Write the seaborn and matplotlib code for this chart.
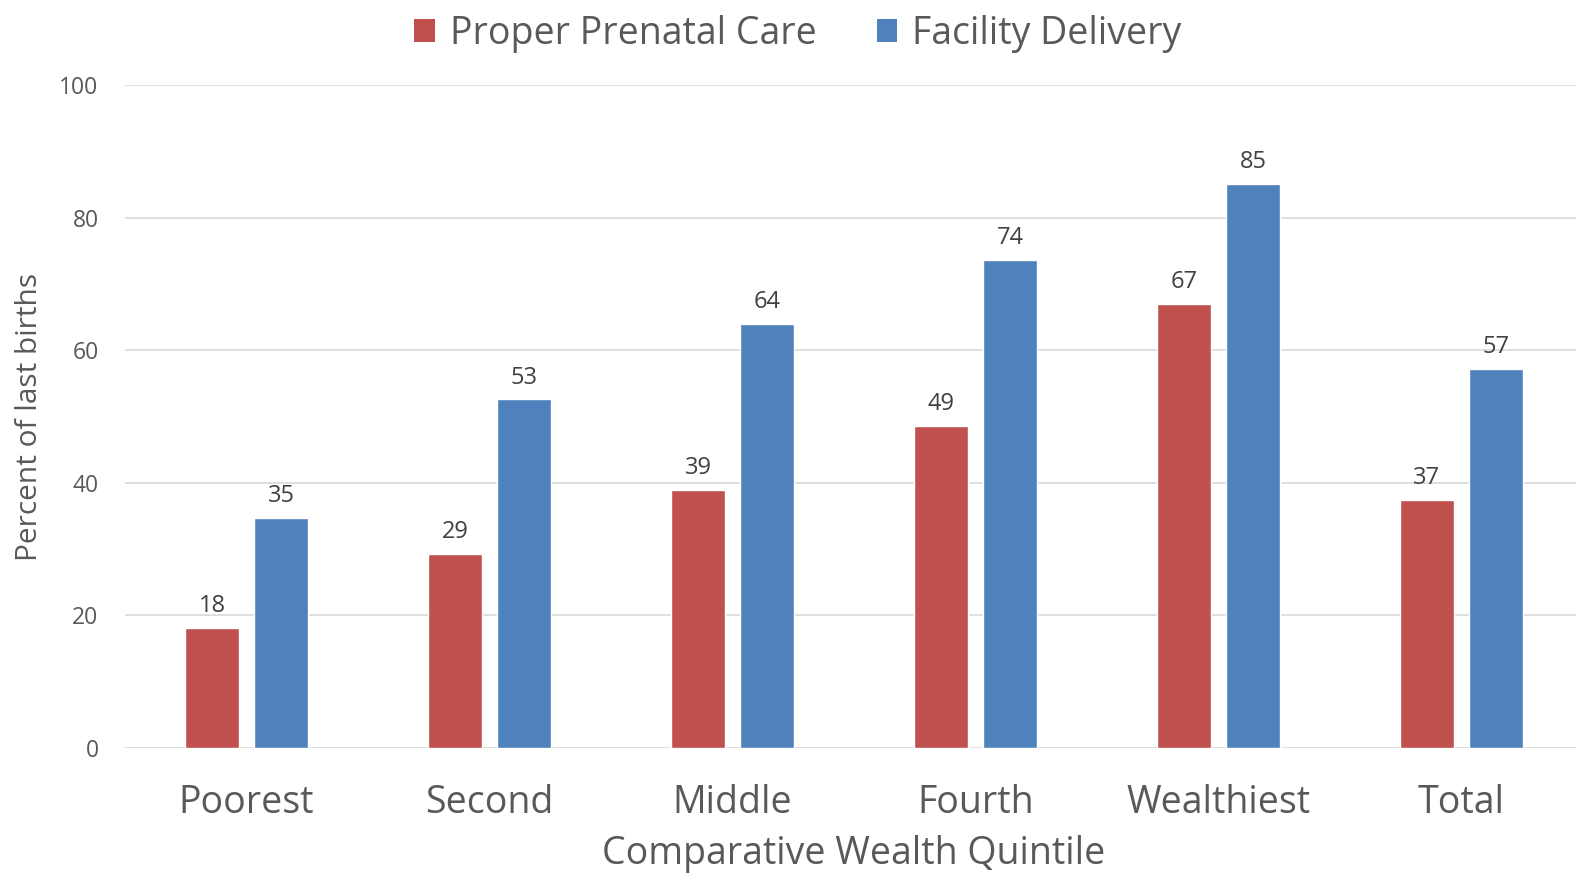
import matplotlib
matplotlib.use("Agg")
import matplotlib.pyplot as plt
import seaborn as sns
import pandas as pd
from matplotlib.patches import Patch

categories = ["Poorest", "Second", "Middle", "Fourth", "Wealthiest", "Total"]
prenatal = [18.1, 29.3, 38.9, 48.6, 67.0, 37.4]
facility = [34.7, 52.6, 64.0, 73.6, 85.1, 57.2]
series_names = ["Proper Prenatal Care", "Facility Delivery"]
colors = ["#C0504D", "#4F81BD"]
yticks = [0, 20, 40, 60, 80, 100]

df = pd.DataFrame({
    "Quintile": categories * 2,
    "Series": [series_names[0]] * len(categories) + [series_names[1]] * len(categories),
    "Value": prenatal + facility,
})

sns.set_theme(style="white")
plt.rcParams["font.family"] = ["Open Sans", "DejaVu Sans"]

W, H = 1576, 876
fig = plt.figure(figsize=(W / 100, H / 100), dpi=100)
ax_left, ax_right = 125, 125 + 243 * 6
ax_top, ax_bot = 85, 748
ax = fig.add_axes([ax_left / W, 1 - ax_bot / H, (ax_right - ax_left) / W, (ax_bot - ax_top) / H])

sns.barplot(data=df, x="Quintile", y="Value", hue="Series", palette=colors,
            width=0.568, gap=0.217, ax=ax, legend=False, saturation=1)

ax.set_ylim(0, 100)
ax.set_xlim(-0.5, len(categories) - 0.5)
ax.set_yticks(yticks)
ax.yaxis.grid(True, color="#D9D9D9", linewidth=1.2)
ax.set_axisbelow(True)
for s in ax.spines.values():
    s.set_visible(False)

txt = "#595959"
ax.tick_params(axis="y", labelsize=16.5, colors=txt, length=0, pad=19)
ax.tick_params(axis="x", labelsize=27, colors=txt, length=0, pad=26)
ax.set_xlabel("Comparative Wealth Quintile", fontsize=27, color=txt, labelpad=9)
ax.set_ylabel("Percent of last births", fontsize=21.5, color=txt, labelpad=11)

for cont in ax.containers:
    ax.bar_label(cont, fmt="%.0f", padding=7, fontsize=17, color="#404040")

handles = [Patch(facecolor=c, edgecolor="none") for c in colors]
fig.legend(handles, series_names, loc="upper center", bbox_to_anchor=(798 / W, 1.0),
           ncol=2, frameon=False, fontsize=27, labelcolor=txt, handlelength=0.55,
           handleheight=0.55, handletextpad=0.4, columnspacing=1.6, borderaxespad=0.0)

fig.savefig("out.png", dpi=100)
